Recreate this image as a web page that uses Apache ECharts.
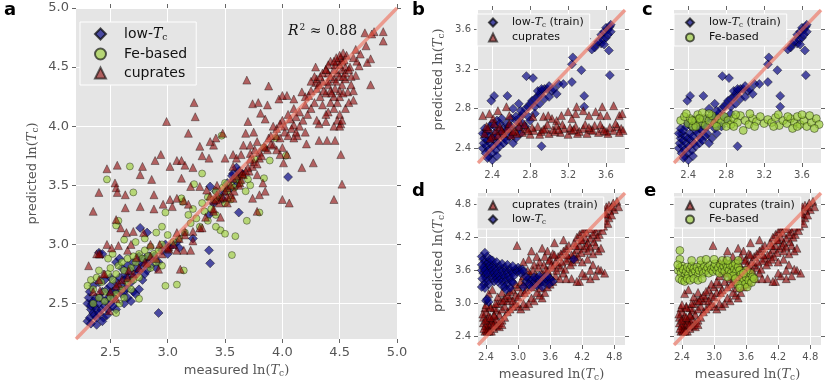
<!DOCTYPE html>
<html>
<head>
<meta charset="utf-8">
<script src="https://cdn.jsdelivr.net/npm/echarts@6/dist/echarts.min.js"></script>
<style>html,body{margin:0;padding:0;background:#fff}#main{width:830px;height:383px}</style>
</head>
<body>
<div id="main"></div>
<script>
// ---- data: [measured, predicted] ----
var aLowTc = [[4.05,3.57],[3.36,2.95],[3.37,2.84],[2.92,2.42],[2.76,3.14],[2.82,3.10],[3.36,3.25],[3.37,3.49],[3.62,3.27],[3.22,3.05],[2.40,2.93],[2.43,2.92],[3.57,3.60],[3.62,3.58],
  [3.45,3.42],[3.50,3.45],[3.52,3.52],[3.55,3.48],[3.58,3.55],[3.60,3.50],[3.62,3.62],[3.65,3.60],[3.48,3.38],[3.40,3.35],[3.42,3.45],[3.60,3.65],[3.56,3.58],
  [2.95,2.95],[2.98,3.00],[3.00,2.92],[3.02,2.98],[3.05,3.00],[3.08,3.02],[3.10,2.97],[2.92,2.85],[2.88,2.90],[2.90,2.80],[2.85,2.82],[2.82,2.78],
  [2.30,2.35],[2.32,2.38],[2.33,2.45],[2.34,2.50],[2.35,2.42],[2.36,2.48],[2.37,2.55],[2.38,2.45],[2.30,2.50],[2.31,2.55],[2.32,2.60],[2.33,2.48],[2.35,2.52],[2.36,2.40],
  [2.38,2.38],[2.40,2.42],[2.42,2.45],[2.40,2.50],[2.41,2.55],[2.43,2.60],[2.44,2.38],[2.45,2.48],[2.46,2.52],[2.48,2.55],[2.50,2.58],[2.47,2.62],[2.50,2.65],[2.52,2.60],
  [2.55,2.62],[2.53,2.55],[2.55,2.68],[2.58,2.72],[2.60,2.65],[2.62,2.70],[2.58,2.60],[2.60,2.58],[2.63,2.75],[2.65,2.72],[2.67,2.78],[2.68,2.68],[2.70,2.72],[2.72,2.80],
  [2.73,2.75],[2.75,2.78],[2.76,2.85],[2.78,2.82],[2.80,2.88],[2.82,2.86],[2.84,2.90],[2.86,2.88],[2.70,2.60],[2.72,2.58],[2.65,2.55],[2.62,2.50],[2.55,2.45],[2.50,2.50],
  [2.47,2.40],[2.43,2.35],[2.38,2.32],[2.33,2.33],[2.68,2.52],[2.75,2.62],[2.78,2.70],[2.80,2.75],[2.60,2.80],[2.55,2.85],[2.50,2.72],[2.45,2.70],[2.40,2.68],[2.35,2.65],
  [2.58,2.88],[2.65,2.82],[2.70,2.85],[2.75,2.90],[2.62,2.60],[2.48,2.45],[2.52,2.48],[2.64,2.63]];

var aFe = [[2.47,3.55],[2.67,3.66],[2.70,3.44],[2.55,3.16],[2.57,3.20],[2.62,3.04],[2.72,3.02],[2.98,3.27],[3.13,3.36],[3.12,3.39],[3.47,3.92],[3.56,2.91],[3.59,3.07],[3.69,3.20],
  [3.80,3.27],[3.84,3.56],[3.46,3.12],[3.50,3.09],[3.42,3.15],[3.89,3.71],[3.94,3.90],[4.03,3.75],[3.76,3.72],[3.84,3.82],[3.14,2.78],[3.08,2.66],[2.98,2.65],[2.55,2.42],
  [2.75,2.54],[3.30,3.60],[3.23,3.51],
  [3.30,3.35],[3.35,3.40],[3.40,3.38],[3.42,3.45],[3.45,3.40],[3.48,3.48],[3.50,3.52],[3.52,3.45],[3.55,3.50],[3.58,3.48],[3.60,3.55],[3.63,3.52],[3.65,3.58],[3.68,3.45],
  [3.70,3.55],[3.72,3.50],[3.38,3.30],[3.32,3.28],[3.42,3.25],[3.35,3.20],[3.28,3.15],[3.25,3.22],[3.20,3.18],[3.15,3.10],[3.10,3.05],[3.05,3.02],[3.00,3.08],[2.95,3.00],
  [3.22,3.30],[3.18,3.25],[3.50,3.35],[3.55,3.38],
  [2.30,2.65],[2.33,2.70],[2.35,2.62],[2.38,2.72],[2.40,2.78],[2.42,2.68],[2.45,2.60],[2.48,2.75],[2.50,2.80],[2.52,2.70],[2.55,2.75],[2.57,2.82],[2.60,2.85],[2.62,2.78],
  [2.65,2.88],[2.68,2.80],[2.70,2.90],[2.72,2.85],[2.75,2.92],[2.78,2.88],[2.80,2.95],[2.83,2.90],[2.85,2.98],[2.88,2.92],[2.90,2.85],[2.92,2.95],[2.45,2.52],[2.50,2.55],
  [2.55,2.58],[2.60,2.62],[2.65,2.68],[2.70,2.70],[2.75,2.72],[2.40,2.55],[2.35,2.50],[2.58,2.50],[2.62,2.55],[2.68,2.62],[2.85,2.80],[2.95,2.82],[2.48,2.88],[2.52,2.92],
  [2.80,3.05],[2.90,3.10],[2.95,3.15]];

var aCup = [[4.72,4.79],[4.80,4.80],[4.88,4.80],[4.88,4.72],[4.78,4.78],[4.64,4.65],[4.73,4.68],[4.68,4.61],[4.77,4.57],[4.74,4.54],[4.67,4.51],[4.59,4.50],[4.64,4.43],[4.77,4.35],
  [4.51,4.58],[4.54,4.56],[4.42,4.55],[4.29,4.50],[4.38,4.48],[4.57,4.29],[4.62,4.22],[4.51,4.02],[4.45,4.00],[4.38,4.04],[4.32,4.02],[4.29,4.37],[4.23,4.26],[4.17,4.29],
  [4.10,4.23],[4.04,4.26],[4.00,4.26],[3.97,4.23],[4.10,4.01],[4.07,4.06],[4.13,3.92],[4.21,3.85],[4.32,3.88],[4.39,3.88],[4.46,3.88],[4.51,3.76],[4.52,3.51],[4.45,3.38],
  [4.27,3.69],[4.17,3.65],[4.06,3.35],[4.00,3.38],[4.04,3.76],[3.98,3.76],[4.01,3.69],[3.90,3.92],[3.85,4.06],[3.87,4.18],[3.79,4.20],[3.81,4.11],[3.88,4.34],[3.74,4.19],
  [3.70,4.04],[3.69,4.39],[3.68,3.94],[3.75,3.95],[3.72,3.84],[3.78,3.87],[3.84,3.83],[3.92,3.84],[3.87,3.80],[3.76,3.80],[3.80,3.73],[3.74,3.66],[3.83,3.52],[3.85,3.45],
  [3.80,3.42],[3.74,3.39],[3.78,3.28],[3.66,3.84],[3.64,3.76],[3.57,3.76],[3.60,3.73],[3.72,3.77],[3.71,3.62],[3.64,3.55],[3.57,3.66],[3.50,3.73],[3.48,3.94],[3.42,3.90],
  [3.40,3.84],[3.37,3.87],[3.28,3.83],[3.30,3.75],[3.36,3.73],[3.23,4.20],[3.24,4.08],[3.18,3.94],[2.99,4.04],[2.94,3.76],[2.89,3.71],[3.08,3.71],[3.12,3.71],[3.02,3.66],
  [3.15,3.67],[3.22,3.65],[3.12,3.56],[3.20,3.49],[3.28,3.49],[2.86,3.55],[2.88,3.42],[2.78,3.66],[2.76,3.59],[2.56,3.67],[2.47,3.64],[2.54,3.52],[2.55,3.48],[2.56,3.44],
  [2.63,3.42],[2.40,3.44],[2.35,3.28],[2.63,3.31],[2.76,3.32],[2.88,3.30],[2.96,3.34],[3.02,3.38],[3.04,3.32],[3.08,3.39],[3.14,3.37],[3.18,3.34],[2.55,3.21],[2.59,3.14],
  [2.64,3.10],[2.70,3.11],[2.79,3.10],[2.47,3.00],[2.51,2.97],[2.57,2.99],[2.65,2.95],[2.68,3.00],[2.31,2.82],[2.38,2.92],[2.41,2.92],[2.85,3.00],[2.93,3.00],[3.01,2.96],
  [3.08,2.95],[3.14,2.95],[3.20,2.95],[3.11,2.79],[3.22,3.03],[3.15,3.11],[3.30,3.14],[3.33,3.23],[3.40,3.28],[3.46,3.23],[3.40,3.37],[3.46,3.39],[3.52,3.35],[3.55,3.42],
  [3.57,3.39],[3.43,3.42],[3.37,3.41],[3.34,3.46],[3.52,3.48],[3.57,3.56],[3.63,3.52],[3.66,3.59],[3.63,3.62],[3.78,3.59],[3.43,3.50],[3.28,3.14],[3.22,3.11],[3.08,3.10],
  [2.82,2.84],[2.92,2.79],[3.01,2.98],[2.73,2.89],[2.66,2.78],[2.44,2.75],[2.57,2.67],[2.41,2.61],[2.55,2.54],[2.49,2.44],
  [4.35,4.38],[4.40,4.35],[4.45,4.40],[4.48,4.45],[4.50,4.42],[4.52,4.48],[4.42,4.30],[4.38,4.28],[4.30,4.32],[4.33,4.25],[4.28,4.20],[4.25,4.15],[4.20,4.18],[4.22,4.10],
  [4.15,4.12],[4.18,4.05],[4.12,4.08],[4.10,4.15],[4.05,4.10],[4.08,3.98],[4.00,4.05],[4.02,3.95],[3.95,3.98],[3.98,3.90],[3.92,4.00],[4.45,4.25],[4.48,4.20],[4.50,4.30],
  [4.52,4.35],[4.55,4.40],[4.50,4.10],[4.48,4.05],[4.45,4.15],[4.40,4.12],[4.42,4.20],[4.35,4.18],[4.38,4.10],[4.30,4.05],[4.45,4.48],[4.50,4.52],[4.52,4.55],[4.55,4.50],
  [4.48,4.55],[4.46,4.52],[4.40,4.45],[4.35,4.45],[4.30,4.40],[4.32,4.35],[4.25,4.30],[4.20,4.25],[4.28,4.42],[4.25,4.38],[4.40,4.38],[4.42,4.42],[4.47,4.38],[4.53,4.42],
  [4.55,4.45],[4.50,4.25],[4.53,4.28],[4.46,4.32],[4.36,4.30],[4.43,4.28],[4.50,4.00],[4.52,4.05],[4.55,4.15],[4.58,4.20],[4.62,4.30],[4.60,4.35],[4.60,4.42],[4.58,4.48],
  [4.65,4.55],[4.62,4.58],[4.56,4.60],[4.53,4.62],[4.50,4.60],[4.47,4.58],[4.45,4.55],[4.40,4.52],[4.38,4.48],[4.33,4.42],
  [3.75,3.70],[3.80,3.78],[3.85,3.82],[3.88,3.90],[3.90,3.85],[3.95,3.92],[3.82,3.75],[3.78,3.68],[3.70,3.65],[3.65,3.60],[3.60,3.58],[3.55,3.50],[3.50,3.45],[3.48,3.40],
  [3.45,3.35],[3.40,3.30],[3.42,3.38],[3.52,3.40],[3.58,3.45],[3.62,3.50],[3.68,3.62],[3.72,3.72],[3.98,4.02],[4.02,4.00],[4.05,3.92],[4.10,3.90],[4.12,3.95],[4.15,4.00],
  [4.20,3.95],[4.00,3.82],[3.95,3.80],
  [2.45,2.75],[2.40,2.70],[2.50,2.60],[2.55,2.65],[2.60,2.70],[2.65,2.72],[2.70,2.75],[2.75,2.80],[2.85,2.90],[2.90,2.88],[2.95,2.92],[3.00,2.97],[3.05,3.00],[3.10,3.05],
  [3.15,3.08],[2.80,2.85],[2.35,2.60],[2.40,2.92]];

// b and c: model trained on low-Tc
var bLowTrain = [[3.64,3.14],[3.39,3.51],[3.37,2.93],[3.37,2.82],[2.92,2.42],[2.76,3.13],[2.83,3.11],[2.56,2.93],[2.42,2.93],[2.39,2.88],[3.24,3.07],[3.24,3.25],[3.34,3.19],
  [3.25,3.32],[3.63,3.39],[3.55,3.46],[3.55,3.55],[3.58,3.58],[3.60,3.62],[3.62,3.60],[3.64,3.63],[3.65,3.58],[3.50,3.45],[3.52,3.48],[3.57,3.50],[3.60,3.52],[3.48,3.42],
  [3.45,3.40],[3.58,3.45],[3.65,3.65],[3.62,3.55],
  [2.60,2.62],[2.65,2.68],[2.70,2.72],[2.72,2.75],[2.75,2.80],[2.78,2.82],[2.80,2.85],[2.82,2.88],[2.85,2.90],[2.88,2.92],[2.90,2.95],[2.92,2.98],[2.95,3.00],[2.98,3.00],
  [3.00,3.03],[3.03,2.98],[3.05,3.00],[3.08,2.95],[3.10,3.05],[3.15,3.05],[2.78,2.72],[2.72,2.65],[2.68,2.60],[2.85,2.82],[2.90,2.85],[2.95,2.90],[3.00,2.92],[2.88,2.98],
  [2.92,3.00],[2.70,2.78],[2.65,2.72],[2.60,2.70],[2.55,2.65],[2.62,2.80],[2.68,2.85],[2.85,2.75],[2.80,2.68],[2.75,2.62],[2.70,2.55],[2.65,2.50],[2.60,2.55],
  [2.30,2.40],[2.31,2.45],[2.32,2.50],[2.33,2.55],[2.34,2.42],[2.35,2.48],[2.36,2.38],[2.37,2.52],[2.38,2.45],[2.40,2.50],[2.41,2.42],[2.42,2.55],[2.43,2.48],[2.45,2.52],
  [2.46,2.45],[2.48,2.58],[2.50,2.55],[2.52,2.60],[2.53,2.50],[2.55,2.58],[2.57,2.62],[2.58,2.52],[2.30,2.55],[2.32,2.60],[2.35,2.58],[2.38,2.62],[2.40,2.65],[2.43,2.62],
  [2.45,2.68],[2.48,2.65],[2.50,2.70],[2.33,2.35],[2.36,2.32],[2.40,2.35],[2.44,2.38],[2.48,2.42],[2.52,2.45],[2.55,2.48],[2.62,2.45],[2.40,2.28],[2.35,2.30],[2.45,2.32]];

var bCup = [[2.30,2.73],[2.37,2.75],[2.55,2.82],[2.58,2.73],[2.41,2.70],[2.46,2.78],[2.69,2.67],[2.83,2.72],[2.94,2.72],[3.03,2.70],[3.08,2.68],[3.13,2.73],[3.20,2.77],
  [3.28,2.75],[3.36,2.78],[3.42,2.73],[3.49,2.77],[3.56,2.82],[3.61,2.73],[3.68,2.83],[3.74,2.73],[3.77,2.75],[3.29,2.82],[3.54,2.73],[3.24,2.70],[2.99,2.73],
  [2.32,2.55],[2.36,2.60],[2.40,2.52],[2.44,2.58],[2.48,2.62],[2.52,2.55],[2.56,2.60],[2.60,2.53],[2.64,2.58],[2.68,2.62],[2.72,2.56],[2.76,2.60],[2.80,2.54],[2.84,2.58],
  [2.88,2.62],[2.92,2.57],[2.96,2.60],[3.00,2.55],[3.04,2.59],[3.08,2.63],[3.12,2.56],[3.16,2.60],[3.20,2.54],[3.24,2.58],[3.28,2.62],[3.32,2.57],[3.36,2.60],[3.40,2.55],
  [3.44,2.59],[3.48,2.63],[3.52,2.56],[3.56,2.60],[3.60,2.57],[3.64,2.61],[3.68,2.58],[3.72,2.62],[3.76,2.60],
  [2.34,2.62],[2.42,2.65],[2.50,2.58],[2.58,2.65],[2.66,2.55],[2.74,2.64],[2.82,2.61],[2.90,2.54],[2.98,2.64],[3.06,2.57],[3.14,2.64],[3.22,2.61],[3.30,2.55],[3.38,2.64],
  [3.46,2.58],[3.54,2.64],[3.62,2.55],[3.70,2.65],[3.78,2.58],
  [2.38,2.50],[2.46,2.53],[2.62,2.57],[2.78,2.58],[2.94,2.59],[3.10,2.59],[3.26,2.59],[3.42,2.61],[3.58,2.58],[3.74,2.56]];

var cFe = [[2.32,2.68],[2.36,2.72],[2.40,2.65],[2.42,2.70],[2.45,2.62],[2.48,2.68],[2.50,2.74],[2.53,2.66],[2.56,2.70],[2.58,2.63],[2.62,2.68],[2.65,2.73],[2.68,2.65],
  [2.72,2.70],[2.75,2.66],[2.78,2.72],[2.82,2.68],[2.85,2.64],[2.88,2.70],[2.92,2.66],[2.95,2.73],[3.00,2.68],[3.04,2.64],[3.08,2.70],[3.12,2.67],[3.16,2.72],[3.20,2.65],
  [3.24,2.69],[3.28,2.66],[3.32,2.71],[3.36,2.63],[3.40,2.68],[3.44,2.65],[3.48,2.70],[3.52,2.66],[3.55,2.72],[3.58,2.64],[3.62,2.68],[3.65,2.62],[3.70,2.66],[3.75,2.70],
  [3.78,2.64],[2.38,2.75],[2.55,2.76],[2.70,2.62],[2.90,2.74],[3.10,2.62],[3.35,2.74],[3.50,2.60],[3.60,2.74],[3.73,2.60],[2.48,2.62],[2.62,2.75],[2.80,2.62],[3.05,2.75],
  [3.30,2.62],[3.45,2.72],[3.55,2.62],[3.68,2.73],[2.98,2.58],[2.88,2.62],[2.52,2.70],[2.44,2.68]];

// d and e: model trained on cuprates
var dCupTrain = [[4.85,4.85],[4.78,4.82],[4.88,4.75],[4.80,4.70],[4.72,4.68],[4.65,4.62],[4.70,4.55],[4.75,4.60],[4.62,4.50],[4.55,4.45],[4.60,4.40],[4.68,4.45],[4.50,4.38],
  [4.45,4.30],[4.52,4.25],[4.58,4.32],[4.48,4.20],[4.40,4.25],[4.35,4.18],[4.42,4.12],[4.30,4.10],[4.25,4.20],[4.20,4.15],[4.28,4.05],[4.35,4.02],[4.45,4.05],[4.50,3.95],
  [4.55,4.00],[4.40,3.90],[4.30,3.95],[4.22,4.00],[4.15,4.05],[4.10,3.98],[4.18,3.92],[4.05,3.90],[4.12,3.85],[4.00,3.88],[4.08,3.80],[3.95,3.82],[4.02,3.75],[3.90,3.78],
  [3.98,3.70],[4.20,3.75],[4.30,3.80],[4.40,3.70],[4.55,3.60],[4.62,3.55],[4.50,3.62],[4.35,3.60],[4.25,3.50],[4.15,3.40],[4.00,3.45],[3.85,3.55],[3.80,3.65],[3.75,3.70],
  [3.70,3.50],[3.65,3.40],[3.60,3.35],[3.55,3.30],[3.50,3.20],[3.45,3.10],[3.40,3.15],[3.35,3.20],[3.30,3.05],[3.25,3.10],[3.20,3.00],[3.15,2.95],[3.10,3.00],[3.05,2.90],
  [3.00,2.95],[2.95,3.00],[2.90,2.95],[2.85,2.90],[2.80,2.85],[2.75,2.75],[2.70,2.70],[2.65,2.65],[2.60,2.60],[2.55,2.55],[2.50,2.50],[2.45,2.55],[2.40,2.52],[2.38,2.50],
  [2.42,2.60],[2.35,2.75],[2.40,2.85],[2.45,2.78],[2.50,2.70],[2.55,2.80],[2.60,2.88],[2.65,2.80],[2.70,2.90],[2.75,2.95],[2.80,3.05],[2.85,3.10],[2.90,3.25],[2.95,3.15],
  [3.00,3.30],[3.05,3.20],[3.10,3.35],[3.15,3.25],[3.20,3.40],[3.25,3.30],[3.30,3.45],[3.35,3.50],[3.40,3.40],[3.45,3.55],[3.50,3.45],[3.55,3.60],[3.60,3.50],[3.65,3.65],
  [3.70,3.75],[3.75,3.85],[3.80,3.90],[3.85,3.95],[3.90,4.00],[3.95,4.05],[2.98,4.05],[3.25,3.95],[3.45,4.00],[3.55,3.95],[3.65,3.90],[3.50,3.85],[3.35,3.85],[3.20,3.80],
  [3.10,3.75],[3.40,3.75],[3.60,3.80],[3.30,3.70],[4.05,4.10],[4.10,4.20],[4.15,4.25],[4.20,4.30],[4.25,4.35],[4.30,4.40],[4.35,4.45],[4.40,4.50],[4.45,4.55],[4.50,4.60],
  [4.55,4.65],[4.60,4.70],[4.65,4.75],[4.70,4.78],[4.48,4.48],[4.38,4.35],[4.28,4.28],[4.18,4.15],[4.08,4.05],[4.62,4.62],[4.75,4.75],
  [2.38,2.92],[2.42,2.72],[2.35,2.65],[2.45,2.62],[2.50,2.65],[2.55,2.68],[2.60,2.72],[2.65,2.58],[2.70,2.62],[2.48,2.95],[2.55,2.92],[2.62,3.00],[2.68,3.05],[2.75,3.10],
  [2.34,2.81],[2.48,2.93],[2.55,2.78],[2.39,2.60],[2.39,2.70],[2.54,2.61],[2.48,2.75],
  [2.58,3.00],[2.62,3.12],[2.70,3.20],[2.72,3.05],[2.80,3.15],[2.85,3.22],[2.90,3.05],[2.95,3.35],[3.00,3.12],[3.05,3.40],[3.10,3.50],[3.12,3.20],[3.18,3.60],[3.22,3.55],
  [3.28,3.60],[3.32,3.35],[3.38,3.65],[3.42,3.28],[3.48,3.70],[3.52,3.62],[3.58,3.78],[3.62,3.70],[3.68,3.88],[3.72,3.60],[3.78,3.45],[3.82,3.75],[3.88,3.62],[3.92,3.88],
  [3.68,4.10],[3.85,4.15],[2.45,3.18],[2.52,3.25],[2.40,2.98],[2.36,2.55],[2.42,2.50],[2.46,2.50],[4.20,3.55],[4.35,3.45],[4.45,3.50],[3.90,3.45],[4.10,3.40]];

var dLow = [[2.32,3.85],[2.35,3.80],[2.38,3.75],[2.40,3.70],[2.42,3.65],[2.45,3.60],[2.48,3.55],[2.50,3.50],[2.52,3.45],[2.55,3.40],[2.32,3.60],[2.35,3.55],[2.38,3.50],
  [2.40,3.45],[2.42,3.40],[2.45,3.35],[2.32,3.70],[2.35,3.65],[2.38,3.60],[2.42,3.55],[2.45,3.75],[2.48,3.70],[2.50,3.65],[2.52,3.60],[2.55,3.55],[2.58,3.50],[2.60,3.45],
  [2.62,3.40],[2.55,3.70],[2.58,3.65],[2.60,3.60],[2.62,3.55],[2.65,3.50],[2.68,3.45],[2.70,3.40],[2.65,3.68],[2.68,3.62],[2.70,3.58],[2.72,3.52],[2.75,3.48],[2.78,3.42],
  [2.80,3.35],[2.75,3.65],[2.78,3.60],[2.80,3.55],[2.82,3.50],[2.85,3.45],[2.88,3.40],[2.90,3.38],[2.85,3.62],[2.88,3.58],[2.90,3.55],[2.92,3.50],[2.95,3.62],[2.98,3.58],
  [3.00,3.65],[3.02,3.60],[3.05,3.55],[3.08,3.62],[3.10,3.58],[2.42,3.85],[2.48,3.80],[2.52,3.78],[2.60,3.75],[2.70,3.72],[2.80,3.70],[2.90,3.68],[2.33,3.45],[2.36,3.35],
  [2.38,3.28],[2.32,3.30],[2.70,3.32],[2.75,3.30],[2.78,3.25],[2.85,3.28],
  [3.15,3.40],[3.20,3.45],[3.25,3.42],[3.30,3.38],[3.35,3.45],[3.40,3.42],[3.45,3.40],[3.50,3.38],[3.55,3.42],[3.60,3.45],[3.65,3.40],[3.20,3.35],[3.30,3.48],[3.40,3.50],
  [3.50,3.48],[3.58,3.35],[3.25,3.30],[3.35,3.32],[3.45,3.30],[3.10,3.30],[3.15,3.48],[3.55,3.50],
  [2.40,3.05],[2.45,3.03],[2.42,3.08],[4.04,3.80],[2.38,3.92]];

var eFe = [[2.33,3.60],[2.36,3.65],[2.38,3.55],[2.40,3.68],[2.42,3.62],[2.45,3.50],[2.48,3.58],[2.50,3.66],[2.52,3.52],[2.55,3.62],[2.58,3.68],[2.60,3.55],[2.62,3.63],
  [2.65,3.58],[2.68,3.66],[2.70,3.52],[2.72,3.60],[2.75,3.70],[2.78,3.62],[2.80,3.55],[2.82,3.68],[2.85,3.60],[2.88,3.65],[2.90,3.55],[2.92,3.70],[2.95,3.62],[2.98,3.58],
  [3.00,3.66],[3.02,3.72],[3.05,3.60],[3.08,3.65],[3.10,3.55],[3.12,3.70],[3.15,3.62],[3.18,3.68],[3.20,3.58],[3.22,3.72],[3.25,3.65],[3.28,3.60],[3.30,3.70],[3.32,3.55],
  [3.35,3.68],[3.38,3.62],[3.40,3.72],[3.42,3.58],[3.45,3.66],[3.48,3.60],[3.50,3.52],[3.52,3.45],[3.55,3.40],[3.58,3.35],[3.60,3.48],[3.62,3.30],[3.65,3.42],[3.68,3.55],
  [3.70,3.38],[3.72,3.48],[3.75,3.45],[3.60,3.60],[3.55,3.55],
  [2.35,3.45],[2.40,3.42],[2.45,3.40],[2.50,3.45],[2.55,3.42],[2.62,3.45],[2.70,3.42],[2.78,3.45],[2.36,3.80],[2.36,3.96],[2.32,3.70],[2.58,3.78],[2.75,3.78],[2.85,3.80],
  [3.00,3.80],[3.15,3.78],[3.25,3.78],[3.45,3.78],[3.35,3.50],[3.25,3.48],[3.40,3.45],[3.45,3.35],[3.48,3.28]];

var rangeA = [2.2, 5.0], ticksA = [2.5, 3.0, 3.5, 4.0, 4.5, 5.0];
var rangeB = [2.25, 3.8], ticksB = [2.4, 2.8, 3.2, 3.6];
var rangeD = [2.25, 5.0], ticksD = [2.4, 3.0, 3.6, 4.2, 4.8];

// ---- chart ----
var chart = echarts.init(document.getElementById('main'));

var LOW = '#000080', FE = '#9acd32', CUP = '#8b0000';
var grids = [
	{left: 76, top: 8, width: 321, height: 334},
	{left: 478, top: 10, width: 147, height: 153},
	{left: 674, top: 10, width: 147, height: 153},
	{left: 478, top: 193, width: 147, height: 152},
	{left: 674, top: 193, width: 147, height: 152}
];

function mathRich(fs) {
	return {
		t: {fontFamily: 'DejaVu Sans', fontSize: fs, color: '#555'},
		m: {fontFamily: 'DejaVu Serif', fontSize: fs, color: '#555'},
		i: {fontFamily: 'DejaVu Serif', fontStyle: 'italic', fontSize: fs, color: '#555'},
		s: {fontFamily: 'DejaVu Serif', fontSize: Math.round(fs * 0.7), color: '#555', padding: [Math.round(fs * 0.45), 0, 0, 0]}
	};
}

var xAxes = [], yAxes = [];
function addAxes(gi, range, ticks, fs, showY, xName, yName, fsName) {
	var common = function (pos, labels, split, name, gap) {
		return {
			type: 'value', gridIndex: gi, min: range[0], max: range[1], position: pos,
			axisLine: {show: false},
			axisTick: {show: true, inside: false, length: 4, customValues: ticks, lineStyle: {color: '#666', width: 1}},
			axisLabel: {show: labels, customValues: ticks, color: '#555', fontSize: fs, fontFamily: 'DejaVu Sans',
				margin: 7, formatter: function (v) { return v.toFixed(1); }},
			splitLine: {show: split, lineStyle: {color: '#ffffff', width: 1}},
			name: name || '', nameLocation: 'middle', nameGap: gap,
			nameTextStyle: {rich: mathRich(fsName)}
		};
	};
	xAxes.push(common('bottom', true, true, xName, 22));
	xAxes.push(common('top', false, false));
	yAxes.push(common('left', showY, true, yName, 32));
	yAxes.push(common('right', false, false));
}
var yLab = '{t|predicted }{m|ln(}{i|T}{s|c}{m|)}';
var xLab = '{t|measured }{m|ln(}{i|T}{s|c}{m|)}';
addAxes(0, rangeA, ticksA, 13, true, xLab, yLab, 13);
addAxes(1, rangeB, ticksB, 10, true, null, yLab, 13);
addAxes(2, rangeB, ticksB, 10, false, null, null, 13);
addAxes(3, rangeD, ticksD, 10, true, xLab, yLab, 13);
addAxes(4, rangeD, ticksD, 10, false, xLab, null, 13);
xAxes[0].nameGap = 24; yAxes[0].nameGap = 36;
// the small panels' y titles sit a little above centre
yAxes[2].nameTextStyle.padding = [0, 0, 0, 14];
yAxes[6].nameTextStyle.padding = [0, 0, 0, 16];

function sc(name, gi, data, sym, color, size, alpha) {
	return {
		name: name, type: 'scatter', xAxisIndex: gi * 2, yAxisIndex: gi * 2,
		data: data, symbol: sym, symbolSize: size, silent: true,
		itemStyle: {color: color, borderColor: '#000', borderWidth: 0.6, opacity: alpha}
	};
}
function diag(gi, range) {
	return {
		type: 'line', xAxisIndex: gi * 2, yAxisIndex: gi * 2, z: 5, silent: true,
		data: [[range[0], range[0]], [range[1], range[1]]], symbol: 'none',
		lineStyle: {color: 'rgba(238,105,85,0.6)', width: 3.5}
	};
}

var series = [
	sc('low-Tc', 0, aLowTc, 'diamond', LOW, 9, 0.68),
	sc('Fe-based', 0, aFe, 'circle', FE, 7, 0.62),
	sc('cuprates', 0, aCup, 'triangle', CUP, 8, 0.58),
	diag(0, rangeA),
	sc('low-Tc (train)', 1, bLowTrain, 'diamond', LOW, 9, 0.68),
	sc('cuprates', 1, bCup, 'triangle', CUP, 8, 0.62),
	diag(1, rangeB),
	sc('low-Tc (train)', 2, bLowTrain, 'diamond', LOW, 9, 0.68),
	sc('Fe-based', 2, cFe, 'circle', FE, 8, 0.68),
	diag(2, rangeB),
	sc('cuprates (train)', 3, dCupTrain, 'triangle', CUP, 8, 0.62),
	sc('low-Tc', 3, dLow, 'diamond', LOW, 9, 0.68),
	diag(3, rangeD),
	sc('cuprates (train)', 4, dCupTrain, 'triangle', CUP, 8, 0.62),
	sc('Fe-based', 4, eFe, 'circle', FE, 8, 0.68),
	diag(4, rangeD)
];

function legendRich(fs) {
	return {
		n: {fontFamily: 'DejaVu Sans', fontSize: fs, color: '#111'},
		i: {fontFamily: 'DejaVu Serif', fontStyle: 'italic', fontSize: fs, color: '#111'},
		s: {fontFamily: 'DejaVu Serif', fontSize: Math.round(fs * 0.65), color: '#111', padding: [Math.round(fs * 0.5), 0, 0, 0]}
	};
}
function legendFmt(name) {
	if (name.indexOf('low-Tc') === 0) {
		return '{n|low-}{i|T}{s|c}' + (name.length > 6 ? '{n|' + name.slice(6) + '}' : '');
	}
	return '{n|' + name + '}';
}
function legend(names, left, top, fs, gap, pad) {
	return {
		orient: 'vertical', left: left, top: top, data: names, selectedMode: false,
		itemWidth: fs - 3, itemHeight: fs - 3, itemGap: gap, padding: pad,
		backgroundColor: '#e5e5e5', borderColor: '#ffffff', borderWidth: 1,
		formatter: legendFmt,
		textStyle: {padding: [0, 0, 0, Math.round(fs * 0.9)], rich: legendRich(fs)}
	};
}

var option = {
	animation: false,
	textStyle: {fontFamily: 'DejaVu Sans'},
	grid: grids.map(function (g) {
		return {left: g.left, top: g.top, width: g.width, height: g.height, backgroundColor: '#e5e5e5', show: true, borderWidth: 0};
	}),
	xAxis: xAxes,
	yAxis: yAxes,
	legend: [
		legend(['low-Tc', 'Fe-based', 'cuprates'], 80, 22, 14, 5, [5, 9, 5, 14]),
		legend(['low-Tc (train)', 'cuprates'], 477, 14, 11, 3, [3, 6, 3, 11]),
		legend(['low-Tc (train)', 'Fe-based'], 674, 14, 11, 3, [3, 6, 3, 11]),
		legend(['cuprates (train)', 'low-Tc'], 477, 197, 11, 3, [3, 6, 3, 11]),
		legend(['cuprates (train)', 'Fe-based'], 674, 197, 11, 3, [3, 6, 3, 11])
	],
	graphic: [
		{type: 'text', left: 4, top: 1, style: {text: 'a', font: 'bold 18px "DejaVu Sans"', fill: '#000'}},
		{type: 'text', left: 412, top: 1, style: {text: 'b', font: 'bold 18px "DejaVu Sans"', fill: '#000'}},
		{type: 'text', left: 642, top: 1, style: {text: 'c', font: 'bold 18px "DejaVu Sans"', fill: '#000'}},
		{type: 'text', left: 412, top: 182, style: {text: 'd', font: 'bold 18px "DejaVu Sans"', fill: '#000'}},
		{type: 'text', left: 644, top: 182, style: {text: 'e', font: 'bold 18px "DejaVu Sans"', fill: '#000'}},
		{type: 'text', left: 288, top: 23, z: 10, style: {
			text: '{i|R}{p|2}{m| \u2248 0.88}',
			rich: {
				i: {fontFamily: 'DejaVu Serif', fontStyle: 'italic', fontSize: 14, fill: '#111'},
				p: {fontFamily: 'DejaVu Serif', fontSize: 9, fill: '#111', padding: [0, 0, 7, 1]},
				m: {fontFamily: 'DejaVu Serif', fontSize: 14, fill: '#111'}
			}
		}}
	],
	series: series
};

chart.setOption(option);
</script>
</body>
</html>
